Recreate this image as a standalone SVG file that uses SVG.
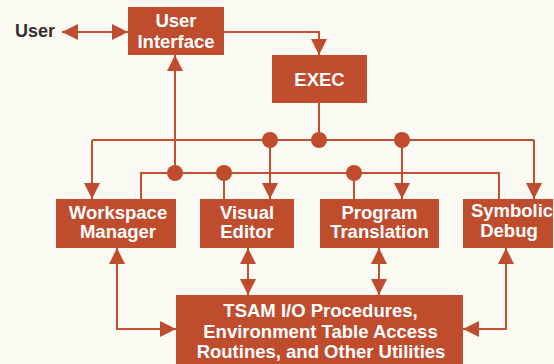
<svg xmlns="http://www.w3.org/2000/svg" width="554" height="364" viewBox="0 0 554 364">
<defs>
<style>
.box{fill:#c04c2e;}
.t{font-family:"Liberation Sans",Arial,sans-serif;font-weight:bold;font-size:18.5px;fill:#ffffff;text-anchor:middle;}
.ln{fill:none;stroke:#c4502f;stroke-width:2;}
.dot{fill:#c04c2e;}
</style>
<marker id="ah" viewBox="0 0 16 16" refX="16" refY="8" markerWidth="16" markerHeight="16" markerUnits="userSpaceOnUse" orient="auto-start-reverse">
<path d="M0,0 L16,8 L0,16 z" fill="#c04c2e"/>
</marker>
</defs>
<rect width="554" height="364" fill="#fbfaf3"/>
<text x="15" y="37" style="font-family:'Liberation Sans',Arial,sans-serif;font-weight:bold;font-size:18px;fill:#33302e;">User</text>
<g id="connectors">
<path class="ln" d="M62,32 H128" marker-start="url(#ah)" marker-end="url(#ah)"/>
<path class="ln" d="M224,32 H319 V55" marker-end="url(#ah)"/>
<path class="ln" d="M319,103 V140"/>
<path class="ln" d="M92,140 H534"/>
<path class="ln" d="M92,140 V199" marker-end="url(#ah)"/>
<path class="ln" d="M270,140 V199" marker-end="url(#ah)"/>
<path class="ln" d="M402,140 V199" marker-end="url(#ah)"/>
<path class="ln" d="M534,140 V199" marker-end="url(#ah)"/>
<path class="ln" d="M141,199 V173 H499 V199"/>
<path class="ln" d="M224,173 V199"/>
<path class="ln" d="M354,173 V199"/>
<path class="ln" d="M175,173 V55" marker-end="url(#ah)"/>
<path class="ln" d="M117,248 V329 H176" marker-start="url(#ah)" marker-end="url(#ah)"/>
<path class="ln" d="M248,248 V295" marker-start="url(#ah)" marker-end="url(#ah)"/>
<path class="ln" d="M379,248 V295" marker-start="url(#ah)" marker-end="url(#ah)"/>
<path class="ln" d="M506,248 V329 H463" marker-start="url(#ah)" marker-end="url(#ah)"/>
<circle class="dot" cx="270" cy="140" r="8"/>
<circle class="dot" cx="319" cy="140" r="8"/>
<circle class="dot" cx="402" cy="140" r="8"/>
<circle class="dot" cx="175" cy="173" r="8"/>
<circle class="dot" cx="224" cy="173" r="8"/>
<circle class="dot" cx="354" cy="173" r="8"/>
</g>
<g id="user-interface">
<rect class="box" x="128" y="7" width="96" height="48"/>
<text class="t" x="176" y="27">User</text>
<text class="t" x="176" y="48">Interface</text>
</g>
<g id="exec">
<rect class="box" x="272" y="55" width="95" height="48"/>
<text class="t" x="319.5" y="85.5">EXEC</text>
</g>
<g id="workspace-manager">
<rect class="box" x="56" y="199" width="120" height="49"/>
<text class="t" x="118" y="218.5">Workspace</text>
<text class="t" x="118" y="238">Manager</text>
</g>
<g id="visual-editor">
<rect class="box" x="200" y="199" width="94" height="49"/>
<text class="t" x="247" y="218.5">Visual</text>
<text class="t" x="247" y="238">Editor</text>
</g>
<g id="program-translation">
<rect class="box" x="320" y="199" width="119" height="49"/>
<text class="t" x="379.5" y="218.5">Program</text>
<text class="t" x="379.5" y="238">Translation</text>
</g>
<g id="symbolic-debug">
<rect class="box" x="463" y="199" width="90" height="49"/>
<text class="t" x="512" y="217">Symbolic</text>
<text class="t" x="509" y="237">Debug</text>
</g>
<g id="tsam">
<rect class="box" x="176" y="295" width="287" height="72"/>
<text class="t" x="320.5" y="317">TSAM I/O Procedures,</text>
<text class="t" x="320.5" y="338">Environment Table Access</text>
<text class="t" x="321" y="358">Routines, and Other Utilities</text>
</g>
</svg>
